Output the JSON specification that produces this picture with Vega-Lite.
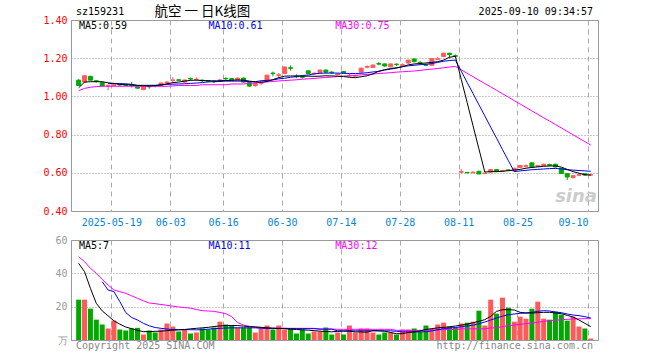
{
"$schema": "https://vega.github.io/schema/vega-lite/v6.json",
"autosize": {"type": "pad"},
"padding": {"left": 42, "top": 4, "right": 5, "bottom": 5},
"spacing": 29,
"bounds": "flush",
"background": "white",
"config": {
  "font": "DejaVu Sans Mono",
  "view": {"stroke": "#999999", "strokeWidth": 1},
  "axis": {"domain": false, "ticks": false, "labelFont": "DejaVu Sans Mono", "labelFontSize": 10, "labelFlush": false, "labelOverlap": false, "labelBound": false}
},
"datasets": {
"k": [
{"d":"2025-05-09","i":0,"o":1.085,"h":1.09,"l":1.055,"c":1.057,"v":24.2,"m5":1.045,"m10":null,"m30":1.030,"v5":46,"v10":null,"v30":50},
{"d":"2025-05-12","i":1,"o":1.075,"h":1.112,"l":1.07,"c":1.108,"v":24.2,"m5":1.075,"m10":null,"m30":1.042,"v5":41,"v10":null,"v30":47},
{"d":"2025-05-13","i":2,"o":1.105,"h":1.108,"l":1.083,"c":1.085,"v":18.8,"m5":1.077,"m10":null,"m30":1.048,"v5":31,"v10":null,"v30":43},
{"d":"2025-05-14","i":3,"o":1.082,"h":1.085,"l":1.072,"c":1.078,"v":12.2,"m5":1.077,"m10":null,"m30":1.051,"v5":22,"v10":null,"v30":40},
{"d":"2025-05-15","i":4,"o":1.072,"h":1.074,"l":1.052,"c":1.055,"v":9.3,"m5":1.077,"m10":null,"m30":1.053,"v5":17.5,"v10":35,"v30":36.5},
{"d":"2025-05-16","i":5,"o":1.056,"h":1.060,"l":1.032,"c":1.058,"v":6.9,"m5":1.071,"m10":1.067,"m30":1.053,"v5":14.5,"v10":30,"v30":33},
{"d":"2025-05-19","i":6,"o":1.058,"h":1.064,"l":1.052,"c":1.060,"v":11.6,"m5":1.068,"m10":1.067,"m30":1.053,"v5":11.5,"v10":29,"v30":30},
{"d":"2025-05-20","i":7,"o":1.063,"h":1.066,"l":1.056,"c":1.060,"v":6.3,"m5":1.063,"m10":1.067,"m30":1.053,"v5":9.5,"v10":23,"v30":29},
{"d":"2025-05-21","i":8,"o":1.062,"h":1.064,"l":1.055,"c":1.058,"v":5.7,"m5":1.061,"m10":1.066,"m30":1.053,"v5":7.8,"v10":16.5,"v30":28},
{"d":"2025-05-22","i":9,"o":1.062,"h":1.076,"l":1.046,"c":1.058,"v":7,"m5":1.060,"m10":1.063,"m30":1.053,"v5":6.8,"v10":13.5,"v30":26.5},
{"d":"2025-05-23","i":10,"o":1.050,"h":1.053,"l":1.040,"c":1.043,"v":7.3,"m5":1.057,"m10":1.058,"m30":1.053,"v5":5.8,"v10":12,"v30":25},
{"d":"2025-05-26","i":11,"o":1.036,"h":1.052,"l":1.032,"c":1.050,"v":3.3,"m5":1.056,"m10":1.058,"m30":1.053,"v5":5,"v10":10,"v30":23.5},
{"d":"2025-05-27","i":12,"o":1.053,"h":1.056,"l":1.040,"c":1.050,"v":5.7,"m5":1.055,"m10":1.058,"m30":1.053,"v5":5,"v10":8.5,"v30":22.2},
{"d":"2025-05-28","i":13,"o":1.056,"h":1.060,"l":1.047,"c":1.054,"v":4.5,"m5":1.057,"m10":1.058,"m30":1.053,"v5":5.2,"v10":7.5,"v30":21.8},
{"d":"2025-05-29","i":14,"o":1.057,"h":1.072,"l":1.055,"c":1.070,"v":6.3,"m5":1.060,"m10":1.060,"m30":1.053,"v5":5.3,"v10":7,"v30":21.3},
{"d":"2025-05-30","i":15,"o":1.073,"h":1.080,"l":1.066,"c":1.075,"v":9.9,"m5":1.066,"m10":1.063,"m30":1.053,"v5":5.6,"v10":6.6,"v30":20.8},
{"d":"2025-06-03","i":16,"o":1.084,"h":1.100,"l":1.068,"c":1.086,"v":8.1,"m5":1.072,"m10":1.064,"m30":1.055,"v5":5.9,"v10":6.3,"v30":20.3},
{"d":"2025-06-04","i":17,"o":1.087,"h":1.090,"l":1.080,"c":1.084,"v":5.1,"m5":1.075,"m10":1.065,"m30":1.057,"v5":6.1,"v10":6.2,"v30":19.8},
{"d":"2025-06-05","i":18,"o":1.075,"h":1.088,"l":1.072,"c":1.086,"v":6.3,"m5":1.080,"m10":1.066,"m30":1.057,"v5":6.3,"v10":6.2,"v30":19.5},
{"d":"2025-06-06","i":19,"o":1.094,"h":1.098,"l":1.084,"c":1.091,"v":3.9,"m5":1.084,"m10":1.068,"m30":1.057,"v5":6.7,"v10":6.2,"v30":19.1},
{"d":"2025-06-09","i":20,"o":1.088,"h":1.100,"l":1.080,"c":1.090,"v":4.5,"m5":1.085,"m10":1.070,"m30":1.057,"v5":7,"v10":6.1,"v30":18.3},
{"d":"2025-06-10","i":21,"o":1.085,"h":1.088,"l":1.075,"c":1.082,"v":7,"m5":1.083,"m10":1.072,"m30":1.061,"v5":7.3,"v10":6.2,"v30":17.6},
{"d":"2025-06-11","i":22,"o":1.082,"h":1.085,"l":1.074,"c":1.080,"v":6.3,"m5":1.082,"m10":1.076,"m30":1.061,"v5":7.6,"v10":6.5,"v30":17.4},
{"d":"2025-06-12","i":23,"o":1.080,"h":1.083,"l":1.070,"c":1.077,"v":7.5,"m5":1.081,"m10":1.077,"m30":1.061,"v5":8.1,"v10":6.8,"v30":17.2},
{"d":"2025-06-13","i":24,"o":1.083,"h":1.092,"l":1.078,"c":1.086,"v":11,"m5":1.082,"m10":1.078,"m30":1.061,"v5":8.4,"v10":7,"v30":16.5},
{"d":"2025-06-16","i":25,"o":1.094,"h":1.100,"l":1.086,"c":1.092,"v":9.3,"m5":1.083,"m10":1.080,"m30":1.061,"v5":8.7,"v10":7.2,"v30":15.8},
{"d":"2025-06-17","i":26,"o":1.093,"h":1.095,"l":1.084,"c":1.086,"v":8.7,"m5":1.084,"m10":1.080,"m30":1.065,"v5":8.7,"v10":7.3,"v30":14},
{"d":"2025-06-18","i":27,"o":1.086,"h":1.098,"l":1.084,"c":1.096,"v":7.5,"m5":1.086,"m10":1.080,"m30":1.065,"v5":8.7,"v10":7.3,"v30":10.5},
{"d":"2025-06-19","i":28,"o":1.096,"h":1.098,"l":1.072,"c":1.075,"v":7.5,"m5":1.085,"m10":1.080,"m30":1.065,"v5":8.3,"v10":7.3,"v30":9},
{"d":"2025-06-20","i":29,"o":1.072,"h":1.074,"l":1.050,"c":1.054,"v":7.5,"m5":1.080,"m10":1.077,"m30":1.069,"v5":8,"v10":7.3,"v30":8.2},
{"d":"2025-06-23","i":30,"o":1.056,"h":1.070,"l":1.050,"c":1.068,"v":4.5,"m5":1.076,"m10":1.077,"m30":1.071,"v5":7.9,"v10":7.3,"v30":7.6},
{"d":"2025-06-24","i":31,"o":1.069,"h":1.084,"l":1.058,"c":1.072,"v":7,"m5":1.074,"m10":1.082,"m30":1.074,"v5":7.6,"v10":7.1,"v30":7.2},
{"d":"2025-06-25","i":32,"o":1.084,"h":1.113,"l":1.082,"c":1.111,"v":8.7,"m5":1.078,"m10":1.084,"m30":1.076,"v5":7.3,"v10":7,"v30":7},
{"d":"2025-06-26","i":33,"o":1.122,"h":1.130,"l":1.105,"c":1.119,"v":6.3,"m5":1.088,"m10":1.086,"m30":1.078,"v5":7.1,"v10":7,"v30":7},
{"d":"2025-06-27","i":34,"o":1.110,"h":1.123,"l":1.098,"c":1.113,"v":8.7,"m5":1.098,"m10":1.092,"m30":1.081,"v5":6.9,"v10":7,"v30":7},
{"d":"2025-06-30","i":35,"o":1.120,"h":1.156,"l":1.118,"c":1.154,"v":6.3,"m5":1.106,"m10":1.095,"m30":1.083,"v5":6.8,"v10":7,"v30":7},
{"d":"2025-07-01","i":36,"o":1.150,"h":1.163,"l":1.134,"c":1.147,"v":7,"m5":1.107,"m10":1.100,"m30":1.085,"v5":6.5,"v10":6.8,"v30":7},
{"d":"2025-07-02","i":37,"o":1.106,"h":1.116,"l":1.095,"c":1.103,"v":3.9,"m5":1.107,"m10":1.104,"m30":1.087,"v5":6.3,"v10":6.8,"v30":7},
{"d":"2025-07-03","i":38,"o":1.103,"h":1.108,"l":1.093,"c":1.100,"v":6.3,"m5":1.106,"m10":1.109,"m30":1.090,"v5":6.1,"v10":6.8,"v30":7},
{"d":"2025-07-04","i":39,"o":1.134,"h":1.136,"l":1.116,"c":1.120,"v":3.9,"m5":1.106,"m10":1.112,"m30":1.092,"v5":5.9,"v10":6.8,"v30":7},
{"d":"2025-07-07","i":40,"o":1.118,"h":1.126,"l":1.112,"c":1.121,"v":5.1,"m5":1.105,"m10":1.118,"m30":1.094,"v5":5.6,"v10":6.8,"v30":7},
{"d":"2025-07-08","i":41,"o":1.124,"h":1.140,"l":1.122,"c":1.138,"v":5.1,"m5":1.106,"m10":1.121,"m30":1.097,"v5":5.3,"v10":6.5,"v30":6.6},
{"d":"2025-07-09","i":42,"o":1.138,"h":1.140,"l":1.120,"c":1.127,"v":7.5,"m5":1.108,"m10":1.122,"m30":1.099,"v5":5.1,"v10":6.5,"v30":6.6},
{"d":"2025-07-10","i":43,"o":1.127,"h":1.133,"l":1.117,"c":1.124,"v":3.3,"m5":1.107,"m10":1.122,"m30":1.101,"v5":4.9,"v10":6.5,"v30":6.6},
{"d":"2025-07-11","i":44,"o":1.114,"h":1.122,"l":1.110,"c":1.117,"v":4.5,"m5":1.106,"m10":1.122,"m30":1.104,"v5":5.2,"v10":5.5,"v30":6.4},
{"d":"2025-07-14","i":45,"o":1.130,"h":1.132,"l":1.120,"c":1.123,"v":3.3,"m5":1.104,"m10":1.121,"m30":1.106,"v5":5.3,"v10":5.5,"v30":6.4},
{"d":"2025-07-15","i":46,"o":1.108,"h":1.120,"l":1.103,"c":1.111,"v":8.7,"m5":1.100,"m10":1.120,"m30":1.108,"v5":5.3,"v10":5.5,"v30":6.4},
{"d":"2025-07-16","i":47,"o":1.106,"h":1.114,"l":1.100,"c":1.109,"v":4.5,"m5":1.098,"m10":1.120,"m30":1.110,"v5":4.9,"v10":5.5,"v30":6.4},
{"d":"2025-07-17","i":48,"o":1.127,"h":1.150,"l":1.125,"c":1.148,"v":6.9,"m5":1.103,"m10":1.121,"m30":1.113,"v5":4.8,"v10":5.5,"v30":6.4},
{"d":"2025-07-18","i":49,"o":1.153,"h":1.163,"l":1.147,"c":1.156,"v":6.9,"m5":1.108,"m10":1.124,"m30":1.115,"v5":4.7,"v10":5.5,"v30":6.4},
{"d":"2025-07-21","i":50,"o":1.152,"h":1.168,"l":1.150,"c":1.164,"v":4.5,"m5":1.118,"m10":1.128,"m30":1.117,"v5":5.7,"v10":5.5,"v30":6.4},
{"d":"2025-07-22","i":51,"o":1.172,"h":1.180,"l":1.163,"c":1.169,"v":3.3,"m5":1.132,"m10":1.131,"m30":1.120,"v5":5.5,"v10":5.5,"v30":6.4},
{"d":"2025-07-23","i":52,"o":1.170,"h":1.172,"l":1.155,"c":1.159,"v":4.5,"m5":1.140,"m10":1.138,"m30":1.122,"v5":5.3,"v10":5.5,"v30":6.4},
{"d":"2025-07-24","i":53,"o":1.155,"h":1.172,"l":1.153,"c":1.170,"v":4.5,"m5":1.146,"m10":1.143,"m30":1.124,"v5":4.5,"v10":5.5,"v30":6.4},
{"d":"2025-07-25","i":54,"o":1.169,"h":1.172,"l":1.160,"c":1.166,"v":3.3,"m5":1.150,"m10":1.148,"m30":1.127,"v5":3.8,"v10":5.2,"v30":5.8},
{"d":"2025-07-28","i":55,"o":1.163,"h":1.173,"l":1.158,"c":1.166,"v":6.3,"m5":1.155,"m10":1.156,"m30":1.129,"v5":3.8,"v10":4.9,"v30":5.8},
{"d":"2025-07-29","i":56,"o":1.175,"h":1.192,"l":1.170,"c":1.190,"v":6.3,"m5":1.165,"m10":1.160,"m30":1.131,"v5":4.5,"v10":4.9,"v30":5.8},
{"d":"2025-07-30","i":57,"o":1.196,"h":1.198,"l":1.178,"c":1.182,"v":6.9,"m5":1.170,"m10":1.163,"m30":1.133,"v5":4.9,"v10":4.9,"v30":5.8},
{"d":"2025-07-31","i":58,"o":1.178,"h":1.185,"l":1.170,"c":1.175,"v":5.1,"m5":1.172,"m10":1.166,"m30":1.136,"v5":5.5,"v10":4.9,"v30":5.8},
{"d":"2025-08-01","i":59,"o":1.166,"h":1.170,"l":1.158,"c":1.163,"v":8.7,"m5":1.175,"m10":1.168,"m30":1.140,"v5":6.3,"v10":4.9,"v30":5.8},
{"d":"2025-08-04","i":60,"o":1.163,"h":1.200,"l":1.160,"c":1.198,"v":6.9,"m5":1.178,"m10":1.172,"m30":1.143,"v5":6.8,"v10":5.5,"v30":5.9},
{"d":"2025-08-05","i":61,"o":1.194,"h":1.205,"l":1.190,"c":1.197,"v":9.3,"m5":1.182,"m10":1.178,"m30":1.146,"v5":7.3,"v10":6.2,"v30":5.9},
{"d":"2025-08-06","i":62,"o":1.209,"h":1.230,"l":1.205,"c":1.226,"v":10.4,"m5":1.190,"m10":1.184,"m30":1.150,"v5":7.6,"v10":6.8,"v30":6.3},
{"d":"2025-08-07","i":63,"o":1.226,"h":1.228,"l":1.198,"c":1.219,"v":8.1,"m5":1.205,"m10":1.188,"m30":1.154,"v5":7.9,"v10":7.2,"v30":6.3},
{"d":"2025-08-08","i":64,"o":1.213,"h":1.220,"l":1.205,"c":1.210,"v":7.5,"m5":1.210,"m10":1.190,"m30":1.157,"v5":8.4,"v10":7.5,"v30":6.3},
{"d":"2025-08-11","i":65,"o":0.603,"h":0.620,"l":0.596,"c":0.606,"v":9.9,"m5":1.089,"m10":1.132,"m30":1.139,"v5":8.9,"v10":7.9,"v30":6.7},
{"d":"2025-08-12","i":66,"o":0.602,"h":0.604,"l":0.597,"c":0.600,"v":10.4,"m5":0.968,"m10":1.073,"m30":1.121,"v5":9.5,"v10":8.4,"v30":6.7},
{"d":"2025-08-13","i":67,"o":0.600,"h":0.608,"l":0.598,"c":0.603,"v":11,"m5":0.846,"m10":1.015,"m30":1.103,"v5":10.3,"v10":8.9,"v30":6.7},
{"d":"2025-08-14","i":68,"o":0.608,"h":0.610,"l":0.592,"c":0.594,"v":17.6,"m5":0.725,"m10":0.956,"m30":1.085,"v5":11.2,"v10":9.8,"v30":6.7},
{"d":"2025-08-15","i":69,"o":0.596,"h":0.601,"l":0.593,"c":0.598,"v":8.7,"m5":0.604,"m10":0.898,"m30":1.067,"v5":12.2,"v10":10.8,"v30":6.7},
{"d":"2025-08-18","i":70,"o":0.604,"h":0.619,"l":0.602,"c":0.617,"v":24.2,"m5":0.606,"m10":0.839,"m30":1.050,"v5":14.2,"v10":12,"v30":7.3},
{"d":"2025-08-19","i":71,"o":0.617,"h":0.619,"l":0.603,"c":0.607,"v":15.8,"m5":0.606,"m10":0.781,"m30":1.032,"v5":17.2,"v10":13.2,"v30":7.3},
{"d":"2025-08-20","i":72,"o":0.609,"h":0.614,"l":0.605,"c":0.611,"v":25.4,"m5":0.608,"m10":0.722,"m30":1.014,"v5":18.2,"v10":14.3,"v30":8},
{"d":"2025-08-21","i":73,"o":0.615,"h":0.618,"l":0.610,"c":0.613,"v":19.4,"m5":0.611,"m10":0.664,"m30":0.996,"v5":18.2,"v10":15.2,"v30":8.6},
{"d":"2025-08-22","i":74,"o":0.610,"h":0.626,"l":0.607,"c":0.624,"v":11,"m5":0.614,"m10":0.606,"m30":0.978,"v5":18,"v10":15.6,"v30":9},
{"d":"2025-08-25","i":75,"o":0.628,"h":0.640,"l":0.626,"c":0.638,"v":14,"m5":0.618,"m10":0.610,"m30":0.960,"v5":16.6,"v10":16,"v30":9.4},
{"d":"2025-08-26","i":76,"o":0.634,"h":0.644,"l":0.628,"c":0.637,"v":12.8,"m5":0.624,"m10":0.613,"m30":0.942,"v5":16.2,"v10":16.2,"v30":9.8},
{"d":"2025-08-27","i":77,"o":0.652,"h":0.655,"l":0.628,"c":0.631,"v":18.8,"m5":0.628,"m10":0.616,"m30":0.924,"v5":16.2,"v10":16.6,"v30":10.2},
{"d":"2025-08-28","i":78,"o":0.634,"h":0.640,"l":0.630,"c":0.637,"v":23,"m5":0.631,"m10":0.618,"m30":0.906,"v5":16.4,"v10":17.2,"v30":10.6},
{"d":"2025-08-29","i":79,"o":0.638,"h":0.647,"l":0.635,"c":0.645,"v":12.8,"m5":0.634,"m10":0.620,"m30":0.888,"v5":16.6,"v10":17.6,"v30":11.2},
{"d":"2025-09-01","i":80,"o":0.643,"h":0.648,"l":0.634,"c":0.640,"v":12.2,"m5":0.636,"m10":0.622,"m30":0.871,"v5":16.6,"v10":17.4,"v30":11.6},
{"d":"2025-09-02","i":81,"o":0.645,"h":0.647,"l":0.628,"c":0.631,"v":17,"m5":0.636,"m10":0.623,"m30":0.853,"v5":16.2,"v10":16.8,"v30":11.9},
{"d":"2025-09-03","i":82,"o":0.624,"h":0.626,"l":0.594,"c":0.596,"v":15.2,"m5":0.630,"m10":0.620,"m30":0.835,"v5":15.8,"v10":16.4,"v30":12.1},
{"d":"2025-09-04","i":83,"o":0.596,"h":0.598,"l":0.562,"c":0.578,"v":11.6,"m5":0.618,"m10":0.616,"m30":0.817,"v5":14.8,"v10":15.6,"v30":12.4},
{"d":"2025-09-05","i":84,"o":0.575,"h":0.588,"l":0.570,"c":0.585,"v":14,"m5":0.606,"m10":0.614,"m30":0.799,"v5":13.8,"v10":15,"v30":12.6},
{"d":"2025-09-08","i":85,"o":0.587,"h":0.594,"l":0.582,"c":0.590,"v":8.1,"m5":0.598,"m10":0.612,"m30":0.781,"v5":12,"v10":14.6,"v30":12.7},
{"d":"2025-09-09","i":86,"o":0.595,"h":0.597,"l":0.584,"c":0.588,"v":6.9,"m5":0.590,"m10":0.610,"m30":0.763,"v5":10,"v10":14,"v30":12.8},
{"d":"2025-09-10","i":87,"o":0.588,"h":0.592,"l":0.585,"c":0.590,"v":0.9,"m5":0.588,"m10":0.608,"m30":0.745,"v5":8,"v10":13.2,"v30":12.8}
]
},
"vconcat": [
{
  "width": 527, "height": 191,
  "layer": [
    {"data": {"name": "k"}, "mark": {"type": "rule", "strokeWidth": 1},
     "encoding": {
       "x": {"field": "i", "type": "quantitative", "scale": {"domain": [-0.45, 87.38], "nice": false, "zero": false},
             "axis": {"title": null, "values": [5.55, 15.55, 24.55, 34.55, 44.55, 54.55, 64.55, 74.55, 86.55], "tickCount": 50,
                      "labelExpr": "datum.value < 10 ? '2025-05-19' : datum.value < 20 ? '06-03' : datum.value < 30 ? '06-16' : datum.value < 40 ? '06-30' : datum.value < 50 ? '07-14' : datum.value < 60 ? '07-28' : datum.value < 70 ? '08-11' : datum.value < 80 ? '08-25' : '09-10'",
                      "labelAlign": {"condition": {"test": "datum.value > 80", "value": "right"}, "value": "center"},
                      "labelColor": "#0a86d0", "labelPadding": 6, "grid": true, "gridColor": "#aaaaaa", "gridDash": [5, 4]}},
       "y": {"field": "l", "type": "quantitative", "scale": {"domain": [0.4, 1.4], "nice": false, "zero": false},
             "axis": {"title": null, "values": [0.4, 0.6, 0.8, 1.0, 1.2, 1.4], "tickCount": 50, "format": ".2f", "labelColor": "#ff0000", "labelPadding": 4, "grid": true, "gridColor": "#999999", "gridDash": [1, 2]}},
       "y2": {"field": "h"},
       "color": {"condition": {"test": "datum.c >= datum.o", "value": "#ff5a5a"}, "value": "#00a800"}
     }},
    {"data": {"name": "k"}, "mark": {"type": "bar", "width": 4, "strokeWidth": 1},
     "encoding": {
       "x": {"field": "i", "type": "quantitative", "scale": {"domain": [-0.45, 87.38], "nice": false, "zero": false}},
       "y": {"field": "o", "type": "quantitative", "scale": {"domain": [0.4, 1.4], "nice": false, "zero": false}},
       "y2": {"field": "c"},
       "color": {"condition": {"test": "datum.c >= datum.o", "value": "#ff5a5a"}, "value": "#00a800"},
       "stroke": {"condition": {"test": "datum.c >= datum.o", "value": "#ff5a5a"}, "value": "#00a800"}
     }},
    {"data": {"name": "k"}, "mark": {"type": "line", "color": "#ff00ff", "strokeWidth": 1},
     "encoding": {
       "x": {"field": "i", "type": "quantitative", "scale": {"domain": [-0.45, 87.38], "nice": false, "zero": false}},
       "y": {"field": "m30", "type": "quantitative", "scale": {"domain": [0.4, 1.4], "nice": false, "zero": false}}
     }},
    {"data": {"name": "k"}, "mark": {"type": "line", "color": "#0000ff", "strokeWidth": 1},
     "encoding": {
       "x": {"field": "i", "type": "quantitative", "scale": {"domain": [-0.45, 87.38], "nice": false, "zero": false}},
       "y": {"field": "m10", "type": "quantitative", "scale": {"domain": [0.4, 1.4], "nice": false, "zero": false}}
     }},
    {"data": {"name": "k"}, "mark": {"type": "line", "color": "#000000", "strokeWidth": 1},
     "encoding": {
       "x": {"field": "i", "type": "quantitative", "scale": {"domain": [-0.45, 87.38], "nice": false, "zero": false}},
       "y": {"field": "m5", "type": "quantitative", "scale": {"domain": [0.4, 1.4], "nice": false, "zero": false}}
     }},
    {"data": {"values": [{}]}, "mark": {"type": "text", "align": "left", "baseline": "middle", "fontSize": 10, "color": "#000000"},
     "encoding": {"x": {"datum": 0.05, "type": "quantitative", "scale": {"domain": [-0.45, 87.38], "nice": false, "zero": false}},
                  "y": {"datum": 1.368, "type": "quantitative", "scale": {"domain": [0.4, 1.4], "nice": false, "zero": false}},
                  "text": {"value": "MA5:0.59"}}},
    {"data": {"values": [{}]}, "mark": {"type": "text", "align": "left", "baseline": "middle", "fontSize": 10, "color": "#0000ff"},
     "encoding": {"x": {"datum": 22.05, "type": "quantitative", "scale": {"domain": [-0.45, 87.38], "nice": false, "zero": false}},
                  "y": {"datum": 1.368, "type": "quantitative", "scale": {"domain": [0.4, 1.4], "nice": false, "zero": false}},
                  "text": {"value": "MA10:0.61"}}},
    {"data": {"values": [{}]}, "mark": {"type": "text", "align": "left", "baseline": "middle", "fontSize": 10, "color": "#ff00ff"},
     "encoding": {"x": {"datum": 43.6, "type": "quantitative", "scale": {"domain": [-0.45, 87.38], "nice": false, "zero": false}},
                  "y": {"datum": 1.368, "type": "quantitative", "scale": {"domain": [0.4, 1.4], "nice": false, "zero": false}},
                  "text": {"value": "MA30:0.75"}}},
    {"data": {"values": [{}]}, "mark": {"type": "text", "align": "left", "baseline": "middle", "fontSize": 10, "color": "#000000"},
     "encoding": {"x": {"datum": -0.45, "type": "quantitative", "scale": {"domain": [-0.45, 87.38], "nice": false, "zero": false}},
                  "y": {"datum": 1.44, "type": "quantitative", "scale": {"domain": [0.4, 1.4], "nice": false, "zero": false}},
                  "text": {"value": "sz159231"}}},
    {"data": {"values": [{}]}, "mark": {"type": "text", "align": "left", "baseline": "middle", "fontSize": 13.5, "font": "Noto Sans CJK SC", "color": "#000000"},
     "encoding": {"x": {"datum": 12.88, "type": "quantitative", "scale": {"domain": [-0.45, 87.38], "nice": false, "zero": false}},
                  "y": {"datum": 1.44, "type": "quantitative", "scale": {"domain": [0.4, 1.4], "nice": false, "zero": false}},
                  "text": {"value": "航空 一 日K线图"}}},
    {"data": {"values": [{}]}, "mark": {"type": "text", "align": "right", "baseline": "middle", "fontSize": 10, "color": "#000000"},
     "encoding": {"x": {"datum": 87.38, "type": "quantitative", "scale": {"domain": [-0.45, 87.38], "nice": false, "zero": false}},
                  "y": {"datum": 1.44, "type": "quantitative", "scale": {"domain": [0.4, 1.4], "nice": false, "zero": false}},
                  "text": {"value": "2025-09-10 09:34:57"}}},
    {"data": {"values": [{}]}, "mark": {"type": "text", "align": "center", "baseline": "middle", "fontSize": 18, "fontStyle": "italic", "fontWeight": "bold", "font": "DejaVu Sans", "color": "#cccccc"},
     "encoding": {"x": {"datum": 84.5, "type": "quantitative", "scale": {"domain": [-0.45, 87.38], "nice": false, "zero": false}},
                  "y": {"datum": 0.475, "type": "quantitative", "scale": {"domain": [0.4, 1.4], "nice": false, "zero": false}},
                  "text": {"value": "sina"}}}
  ]
},
{
  "width": 527, "height": 100,
  "layer": [
    {"data": {"name": "k"}, "mark": {"type": "bar", "width": 5},
     "encoding": {
       "x": {"field": "i", "type": "quantitative", "scale": {"domain": [-0.45, 87.38], "nice": false, "zero": false},
             "axis": {"title": null, "values": [5.55, 15.55, 24.55, 34.55, 44.55, 54.55, 64.55, 74.55, 86.55], "tickCount": 50, "labels": false, "grid": true, "gridColor": "#aaaaaa", "gridDash": [5, 4]}},
       "y": {"field": "v", "type": "quantitative", "scale": {"domain": [0, 60], "nice": false, "zero": true},
             "axis": {"title": null, "values": [0, 20, 40, 60], "tickCount": 50, "labelExpr": "datum.value == 0 ? '万' : datum.label", "labelColor": "#999999", "labelPadding": 4, "grid": true, "gridColor": "#999999", "gridDash": [1, 2]}},
       "color": {"condition": {"test": "datum.c >= datum.o", "value": "#ff5a5a"}, "value": "#00a800"}
     }},
    {"data": {"name": "k"}, "mark": {"type": "line", "color": "#ff00ff", "strokeWidth": 1},
     "encoding": {
       "x": {"field": "i", "type": "quantitative", "scale": {"domain": [-0.45, 87.38], "nice": false, "zero": false}},
       "y": {"field": "v30", "type": "quantitative", "scale": {"domain": [0, 60], "nice": false}}
     }},
    {"data": {"name": "k"}, "mark": {"type": "line", "color": "#0000ff", "strokeWidth": 1},
     "encoding": {
       "x": {"field": "i", "type": "quantitative", "scale": {"domain": [-0.45, 87.38], "nice": false, "zero": false}},
       "y": {"field": "v10", "type": "quantitative", "scale": {"domain": [0, 60], "nice": false}}
     }},
    {"data": {"name": "k"}, "mark": {"type": "line", "color": "#000000", "strokeWidth": 1},
     "encoding": {
       "x": {"field": "i", "type": "quantitative", "scale": {"domain": [-0.45, 87.38], "nice": false, "zero": false}},
       "y": {"field": "v5", "type": "quantitative", "scale": {"domain": [0, 60], "nice": false}}
     }},
    {"data": {"values": [{}]}, "mark": {"type": "text", "align": "left", "baseline": "middle", "fontSize": 10, "color": "#000000"},
     "encoding": {"x": {"datum": 0.05, "type": "quantitative", "scale": {"domain": [-0.45, 87.38], "nice": false, "zero": false}},
                  "y": {"datum": 56.2, "type": "quantitative", "scale": {"domain": [0, 60], "nice": false}},
                  "text": {"value": "MA5:7"}}},
    {"data": {"values": [{}]}, "mark": {"type": "text", "align": "left", "baseline": "middle", "fontSize": 10, "color": "#0000ff"},
     "encoding": {"x": {"datum": 22.05, "type": "quantitative", "scale": {"domain": [-0.45, 87.38], "nice": false, "zero": false}},
                  "y": {"datum": 56.2, "type": "quantitative", "scale": {"domain": [0, 60], "nice": false}},
                  "text": {"value": "MA10:11"}}},
    {"data": {"values": [{}]}, "mark": {"type": "text", "align": "left", "baseline": "middle", "fontSize": 10, "color": "#ff00ff"},
     "encoding": {"x": {"datum": 43.6, "type": "quantitative", "scale": {"domain": [-0.45, 87.38], "nice": false, "zero": false}},
                  "y": {"datum": 56.2, "type": "quantitative", "scale": {"domain": [0, 60], "nice": false}},
                  "text": {"value": "MA30:12"}}},
    {"data": {"values": [{}]}, "mark": {"type": "text", "align": "left", "baseline": "middle", "fontSize": 10, "color": "#888888"},
     "encoding": {"x": {"datum": -0.45, "type": "quantitative", "scale": {"domain": [-0.45, 87.38], "nice": false, "zero": false}},
                  "y": {"datum": -3.6, "type": "quantitative", "scale": {"domain": [0, 60], "nice": false}},
                  "text": {"value": "Copyright 2025 SINA.COM"}}},
    {"data": {"values": [{}]}, "mark": {"type": "text", "align": "right", "baseline": "middle", "fontSize": 10, "color": "#888888"},
     "encoding": {"x": {"datum": 87.38, "type": "quantitative", "scale": {"domain": [-0.45, 87.38], "nice": false, "zero": false}},
                  "y": {"datum": -3.6, "type": "quantitative", "scale": {"domain": [0, 60], "nice": false}},
                  "text": {"value": "http://finance.sina.com.cn"}}}
  ]
}
]
}
